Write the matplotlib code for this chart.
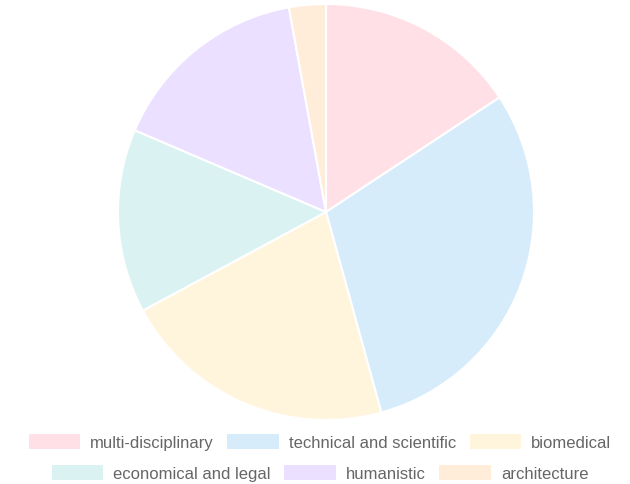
import matplotlib
matplotlib.use("Agg")
import matplotlib.pyplot as plt

categories = ["multi-disciplinary", "technical and scientific", "biomedical",
              "economical and legal", "humanistic", "architecture"]
counts = [11, 21, 15, 10, 11, 2]
colors = ["#ffe0e6", "#d7ecfb", "#fff5dd", "#dbf2f2", "#ebe0ff", "#ffecd9"]

plt.rcParams["font.family"] = ["Liberation Sans", "DejaVu Sans"]

W, H = 630, 485
fig = plt.figure(figsize=(W / 100, H / 100), dpi=100)

cx, cy, r = 326, 213, 208
ax = fig.add_axes([(cx - r) / W, (H - cy - r) / H, 2 * r / W, 2 * r / H])
wedges, _ = ax.pie(counts, colors=colors, startangle=90, counterclock=False,
                   radius=1.0, wedgeprops=dict(edgecolor="white", linewidth=1.5))
ax.set_xlim(-1, 1)
ax.set_ylim(-1, 1)
ax.set_aspect("equal")
ax.axis("off")

common = dict(loc="center", frameon=False, fontsize=12, handlelength=3.1,
              handleheight=1.0, handletextpad=0.6, columnspacing=0.8,
              labelcolor="#666666", borderpad=0, borderaxespad=0)
lx = 0.5 + 5 / W
leg1 = fig.legend(wedges[:3], categories[:3], ncol=3,
                  bbox_to_anchor=(lx, (H - 443) / H), **common)
for h in leg1.legend_handles:
    h.set_edgecolor("none")
leg2 = fig.legend(wedges[3:], categories[3:], ncol=3,
                  bbox_to_anchor=(lx, (H - 474) / H), **common)
for h in leg2.legend_handles:
    h.set_edgecolor("none")

fig.savefig("out.png", dpi=100, facecolor="white")
